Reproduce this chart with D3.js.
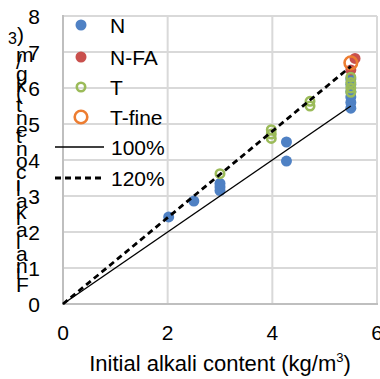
<!DOCTYPE html>
<html>
<head>
<meta charset="utf-8">
<script src="https://cdn.jsdelivr.net/npm/d3@7"></script>
<style>
  html, body { margin: 0; padding: 0; background: #fff; }
  svg { display: block; font-family: "Liberation Sans", Arial, sans-serif; }
</style>
</head>
<body>
<svg id="chart" width="380" height="379"></svg>
<script>
// Measured alkali contents (kg/m3): initial vs final, per mix series
const nX    = [2.02, 2.5, 3.0, 3.0, 3.0, 4.27, 4.27, 5.5, 5.5, 5.5, 5.5, 5.5, 5.5];
const nY    = [2.42, 2.86, 3.15, 3.25, 3.35, 3.97, 4.5, 5.44, 5.6, 5.75, 5.9, 6.1, 6.25];
const nfaX  = [5.5, 5.58];
const nfaY  = [6.5, 6.82];
const tX    = [3.0, 3.98, 3.98, 3.98, 4.72, 4.72, 5.5, 5.5, 5.5, 5.5];
const tY    = [3.62, 4.6, 4.72, 4.84, 5.5, 5.63, 5.88, 6.0, 6.15, 6.3];
const tfX   = [5.5];
const tfY   = [6.7];
// Reference ratios (final = ratio * initial), drawn up to x = 5.5
const refRatios = [1.0, 1.2];
const refLabels = ["100%", "120%"];
const refEnd = 5.5;

const xTicks = [0, 2, 4, 6];
const yTicks = [0, 1, 2, 3, 4, 5, 6, 7, 8];
const xTitle = "Initial alkali content (kg/m";
const yTitle = "Final alkali content (kg/m";

const svg = d3.select("#chart");
const x = d3.scaleLinear().domain([0, 6]).range([63, 377]);
const y = d3.scaleLinear().domain([0, 8]).range([304, 16]);

// gridlines
const grid = svg.append("g");
grid.selectAll("line.h").data(yTicks).join("line")
  .attr("x1", x(0)).attr("x2", x(6))
  .attr("y1", d => y(d)).attr("y2", d => y(d))
  .attr("stroke", "#d9d9d9").attr("stroke-width", 2);
grid.selectAll("line.v").data(xTicks.filter(d => d > 0)).join("line")
  .attr("x1", d => x(d)).attr("x2", d => x(d))
  .attr("y1", y(0)).attr("y2", y(8))
  .attr("stroke", "#d9d9d9").attr("stroke-width", 2);
// axis lines
svg.append("line").attr("x1", x(0)).attr("x2", x(0)).attr("y1", y(0) + 1).attr("y2", y(8) - 1)
  .attr("stroke", "#bfbfbf").attr("stroke-width", 2);
svg.append("line").attr("x1", x(0) - 1).attr("x2", x(6) + 1).attr("y1", y(0)).attr("y2", y(0))
  .attr("stroke", "#bfbfbf").attr("stroke-width", 2);

// tick labels
svg.append("g").selectAll("text").data(yTicks).join("text")
  .attr("x", 40).attr("y", d => y(d)).attr("dy", "0.36em")
  .attr("text-anchor", "end").attr("font-size", 21).attr("fill", "#000")
  .text(d => d);
svg.append("g").selectAll("text").data(xTicks).join("text")
  .attr("x", d => x(d)).attr("y", 340)
  .attr("text-anchor", "middle").attr("font-size", 21).attr("fill", "#000")
  .text(d => d);

// x title
const xt = svg.append("text").attr("x", 220).attr("y", 371)
  .attr("text-anchor", "middle").attr("font-size", 22).attr("fill", "#000");
xt.append("tspan").text(xTitle);
xt.append("tspan").attr("font-size", 13).attr("dy", -9).text("3");
xt.append("tspan").attr("dy", 9).text(")");

// y title: upright glyphs stacked bottom to top
(function () {
  const g = svg.append("g");
  let py = 292;
  const gap = 0.6;
  for (const ch of yTitle) {
    const t = g.append("text").attr("x", 16).attr("y", py)
      .attr("font-size", 21).attr("fill", "#000").text(ch);
    const w = ch === " " ? 5.8 : t.node().getComputedTextLength();
    py -= w + gap;
  }
  g.append("text").attr("x", 8).attr("y", py).attr("font-size", 16).attr("fill", "#000").text("3");
  g.append("text").attr("x", 17).attr("y", py - 2).attr("font-size", 21).attr("fill", "#000").text(")");
})();

// scatter series
const series = [
  { name: "N",      xs: nX,   ys: nY,   type: "fill",   color: "#4f81c4", r: 5.5 },
  { name: "N-FA",   xs: nfaX, ys: nfaY, type: "fill",   color: "#c9504d", r: 5.5 },
  { name: "T",      xs: tX,   ys: tY,   type: "hollow", color: "#9bbb59", r: 4.2, sw: 2.6 },
  { name: "T-fine", xs: tfX,  ys: tfY,  type: "hollow", color: "#ed7d31", r: 6.3, sw: 2.6 }
];
function drawMarker(sel, s) {
  sel.attr("r", s.r)
    .attr("fill", s.type === "fill" ? s.color : "none")
    .attr("stroke", s.type === "fill" ? "none" : s.color)
    .attr("stroke-width", s.sw || 0);
}
series.forEach(s => {
  const pts = s.xs.map((v, i) => [v, s.ys[i]]);
  svg.append("g").selectAll("circle").data(pts).join("circle")
    .attr("cx", d => x(d[0])).attr("cy", d => y(d[1]))
    .call(drawMarker, s);
});

// reference lines
const refStyle = [
  { width: 1.4, dash: null },
  { width: 2.8, dash: "6,4" }
];
refRatios.forEach((k, i) => {
  const line = d3.line().x(d => x(d[0])).y(d => y(d[1]));
  svg.append("path").attr("d", line([[0, 0], [refEnd, k * refEnd]]))
    .attr("fill", "none").attr("stroke", "#000")
    .attr("stroke-width", refStyle[i].width)
    .attr("stroke-dasharray", refStyle[i].dash);
});

// legend
const legY = [25, 57, 87, 117, 147, 178];
const leg = svg.append("g");
series.forEach((s, i) => {
  leg.append("circle").attr("cx", 81).attr("cy", legY[i]).call(drawMarker, s);
  leg.append("text").attr("x", 110).attr("y", legY[i]).attr("dy", "0.36em")
    .attr("font-size", 21).attr("fill", "#000").text(s.name);
});
refLabels.forEach((lab, i) => {
  const ly = legY[4 + i];
  leg.append("line").attr("x1", 55).attr("x2", 104).attr("y1", ly).attr("y2", ly)
    .attr("stroke", "#000").attr("stroke-width", refStyle[i].width)
    .attr("stroke-dasharray", refStyle[i].dash);
  leg.append("text").attr("x", 111).attr("y", ly).attr("dy", "0.36em")
    .attr("font-size", 21).attr("fill", "#000").text(lab);
});
</script>
</body>
</html>
